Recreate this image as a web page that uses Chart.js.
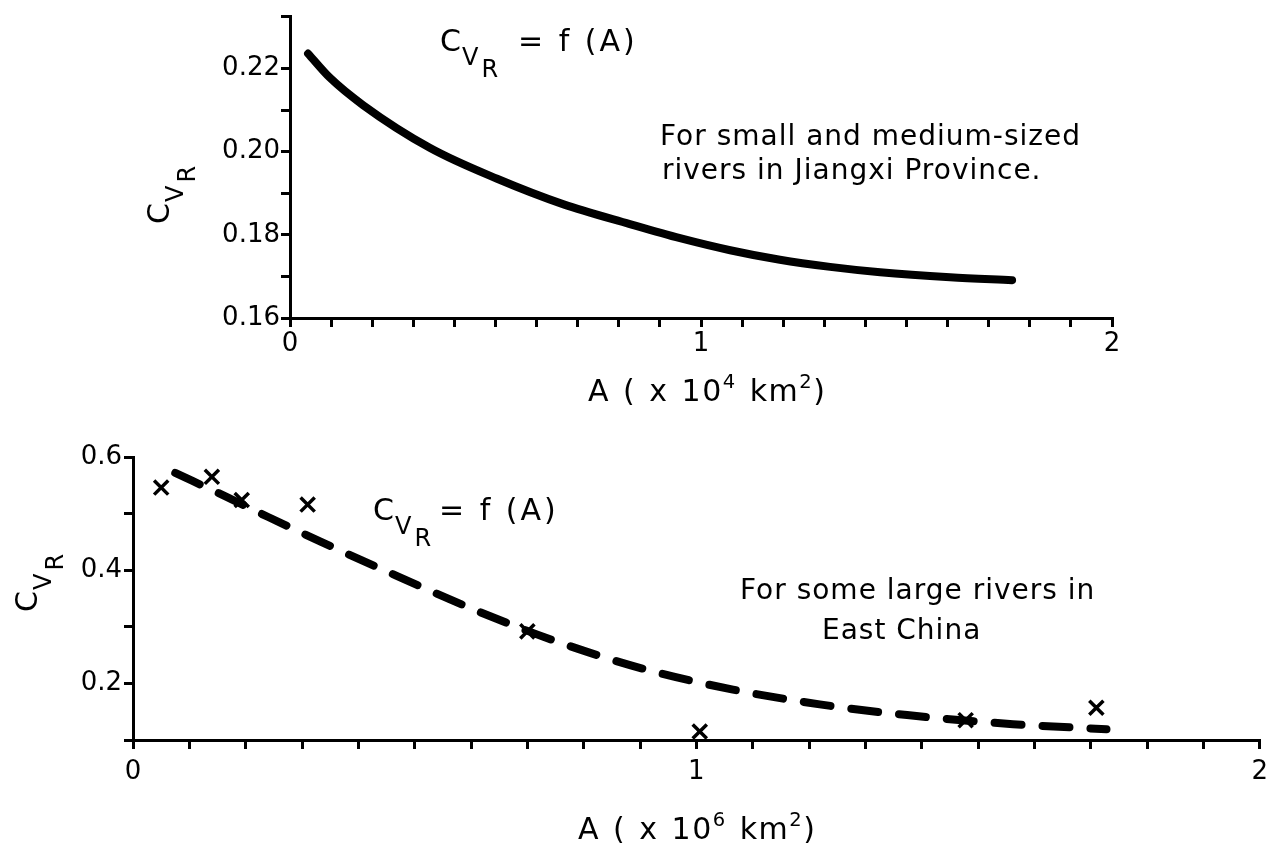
<!DOCTYPE html>
<html>
<head>
<meta charset="utf-8">
<title>Cv_R = f(A)</title>
<script src="https://cdn.jsdelivr.net/npm/chart.js@4.4.1/dist/chart.umd.min.js"></script>
<style>
  html, body { margin: 0; padding: 0; background: #fff; }
  #page { position: relative; width: 1276px; height: 850px; overflow: hidden;
          font-family: 'DejaVu Sans', sans-serif; color: #000; }
  canvas { position: absolute; left: 0; }
  #topChart { top: 0; }
  #bottomChart { top: 430px; }
  .txt { position: absolute; white-space: nowrap; line-height: 1; font-size: 28px; letter-spacing: 1px; }
  .cv { position: absolute; white-space: nowrap; line-height: 1; font-size: 30px; }
  .cv .v { font-size: 24px; position: relative; top: 14px; margin-left: 1px; }
  .cv .r { font-size: 24px; position: relative; top: 12px; margin-left: 3px; }
  .cv .eq { margin-left: 20px; letter-spacing: 3px; }
  .ytitle { transform: rotate(-90deg); transform-origin: 0 0; }
  .xt { position: absolute; white-space: nowrap; line-height: 1; font-size: 30px; letter-spacing: 1.5px; word-spacing: 2px; }
  sup { font-size: 65%; vertical-align: 0; position: relative; top: -13px; }
</style>
</head>
<body>
<div id="page">
  <canvas id="topChart" width="1276" height="420"></canvas>
  <canvas id="bottomChart" width="1276" height="420"></canvas>

  <!-- upper figure texts -->
  <div class="cv" style="left:440px; top:26px;">C<span class="v">V<span class="r">R</span></span><span class="eq">= f (A)</span></div>
  <div class="txt" style="left:660px; top:122px;">For small and medium-sized</div>
  <div class="txt" style="left:662px; top:156px;">rivers in Jiangxi Province.</div>
  <div class="cv ytitle" style="left:144px; top:224px;">C<span class="v">V<span class="r">R</span></span></div>
  <div class="xt" style="left:588px; top:376px;">A ( x 10<sup>4</sup> km<sup>2</sup>)</div>

  <!-- lower figure texts -->
  <div class="cv" style="left:373px; top:495px;">C<span class="v">V<span class="r">R</span></span><span class="eq" style="margin-left:8px">= f (A)</span></div>
  <div class="txt" style="left:740px; top:576px;">For some large rivers in</div>
  <div class="txt" style="left:822px; top:616px;">East China</div>
  <div class="cv ytitle" style="left:12px; top:612px;">C<span class="v">V<span class="r">R</span></span></div>
  <div class="xt" style="left:578px; top:814px;">A ( x 10<sup>6</sup> km<sup>2</sup>)</div>
</div>

<script>
// upper figure: small and medium-sized rivers, Jiangxi (A in 10^4 km2)
const jiangxiA  = [0.044, 0.097, 0.178, 0.341, 0.504, 0.664, 0.827, 0.949, 1.071, 1.192, 1.314, 1.436, 1.606, 1.757];
const jiangxiCv = [0.2236, 0.2178, 0.2112, 0.2009, 0.1935, 0.1874, 0.1826, 0.1792, 0.1763, 0.1740, 0.1723, 0.1710, 0.1698, 0.1691];

// lower figure: large rivers, East China (A in 10^6 km2)
const curveA  = [0.075, 0.167, 0.24, 0.332, 0.468, 0.616, 0.752, 0.905, 1.065, 1.219, 1.374, 1.562, 1.728];
const curveCv = [0.572, 0.529, 0.494, 0.451, 0.390, 0.326, 0.274, 0.226, 0.189, 0.163, 0.144, 0.128, 0.119];
const stationA  = [0.05, 0.14, 0.193, 0.31, 0.70, 1.006, 1.478, 1.71];
const stationCv = [0.546, 0.565, 0.524, 0.516, 0.292, 0.115, 0.135, 0.157];

// ticks
const xTicks = [0, 0.1, 0.2, 0.3, 0.4, 0.5, 0.6, 0.7, 0.8, 0.9, 1, 1.1, 1.2, 1.3, 1.4, 1.5, 1.6, 1.7, 1.8, 1.9, 2];
const xTickLabels = ['0', '1', '2'];
const topYTicks = [0.16, 0.17, 0.18, 0.19, 0.20, 0.21, 0.22, 0.2325];
const topYLabels = ['0.16', '0.18', '0.20', '0.22'];
const bottomYTicks = [0.1, 0.2, 0.3, 0.4, 0.5, 0.6];
const bottomYLabels = ['0.2', '0.4', '0.6'];

const toXY = (xs, ys) => xs.map((x, i) => ({ x: x, y: ys[i] }));

const labelFrom = (list, digits) => v => {
  const s = digits === 0 ? String(Math.round(v)) : v.toFixed(digits);
  return list.includes(s) && Math.abs(Number(s) - v) < 1e-9 ? s : '';
};

const axisBase = (ticks, label, box, pad) => ({
  type: 'linear',
  afterBuildTicks: s => { s.ticks = ticks.map(v => ({ value: v })); },
  afterFit: box,
  grid: { drawOnChartArea: false, drawTicks: true, tickLength: 9, color: '#000', lineWidth: 3 },
  border: { display: true, color: '#000', width: 3 },
  ticks: {
    color: '#000',
    font: { family: 'DejaVu Sans', size: 26 },
    autoSkip: false,
    maxRotation: 0,
    padding: pad,
    callback: label
  }
});

const common = {
  responsive: false,
  animation: false,
  events: [],
  plugins: { legend: { display: false }, tooltip: { enabled: false } }
};

new Chart(document.getElementById('topChart'), {
  type: 'line',
  data: {
    datasets: [{
      data: toXY(jiangxiA, jiangxiCv),
      borderColor: '#000',
      borderWidth: 8,
      borderCapStyle: 'round',
      borderJoinStyle: 'round',
      cubicInterpolationMode: 'monotone',
      pointRadius: 0,
      fill: false
    }]
  },
  options: {
    ...common,
    layout: { padding: { top: 15, right: 164, left: 0, bottom: 0 } },
    scales: {
      x: { ...axisBase(xTicks, labelFrom(xTickLabels, 0), s => { s.height = 102; }, 2), min: 0, max: 2 },
      y: { ...axisBase(topYTicks, labelFrom(topYLabels, 2), s => { s.width = 290; }, 1), min: 0.16, max: 0.2325 }
    }
  }
});

new Chart(document.getElementById('bottomChart'), {
  type: 'line',
  data: {
    datasets: [{
      data: toXY(curveA, curveCv),
      borderColor: '#000',
      borderWidth: 8,
      borderDash: [27, 21],
      borderCapStyle: 'round',
      cubicInterpolationMode: 'monotone',
      pointRadius: 0,
      fill: false
    }, {
      data: toXY(stationA, stationCv),
      showLine: false,
      pointStyle: 'crossRot',
      pointRadius: 10,
      pointBorderWidth: 3.5,
      pointBorderColor: '#000',
      borderColor: '#000'
    }]
  },
  options: {
    ...common,
    layout: { padding: { top: 27, right: 16, left: 0, bottom: 0 } },
    scales: {
      x: { ...axisBase(xTicks, labelFrom(xTickLabels, 0), s => { s.height = 110; }, 8), min: 0, max: 2 },
      y: { ...axisBase(bottomYTicks, labelFrom(bottomYLabels, 1), s => { s.width = 133; }, 2), min: 0.1, max: 0.6 }
    }
  }
});
</script>
</body>
</html>
